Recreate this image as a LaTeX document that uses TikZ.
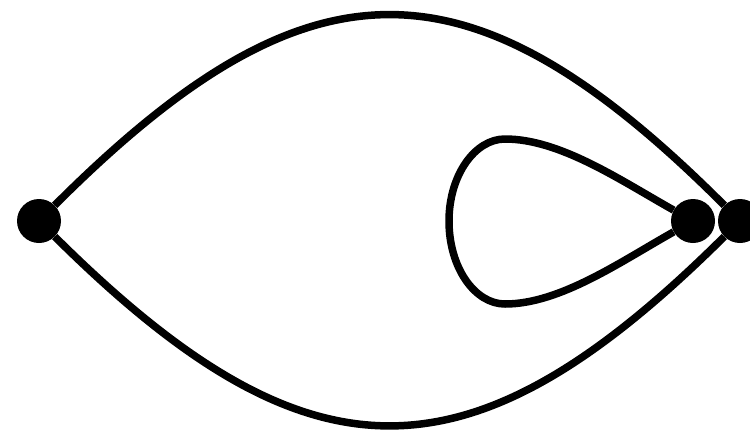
\documentclass[tikz,border=0pt]{standalone}
\begin{document}
\begin{tikzpicture}[x=1pt,y=-1pt,
  dot/.style={circle,fill=black,inner sep=0pt,minimum size=44pt},
  edge/.style={line width=7.5pt,draw=black}]
\useasboundingbox (0,0) rectangle (750,429);
\clip (0,0) rectangle (750,429);
\node[dot] (L) at (39,221) {};
\node[dot] (R1) at (693,221) {};
\node[dot] (R2) at (740,221) {};
\coordinate (T) at (505,139);
\coordinate (W) at (449,221);
\coordinate (B) at (505,304);
\draw[edge] (L) .. controls (309,-49) and (470,-49) .. (R2);
\draw[edge] (L) .. controls (309,489) and (470,489) .. (R2);
\draw[edge] (R1) .. controls (620,180) and (560,139) .. (T)
  .. controls (475,139) and (449,175) .. (W)
  .. controls (449,268) and (475,304) .. (B)
  .. controls (560,304) and (620,262) .. (R1);
\end{tikzpicture}
\end{document}
